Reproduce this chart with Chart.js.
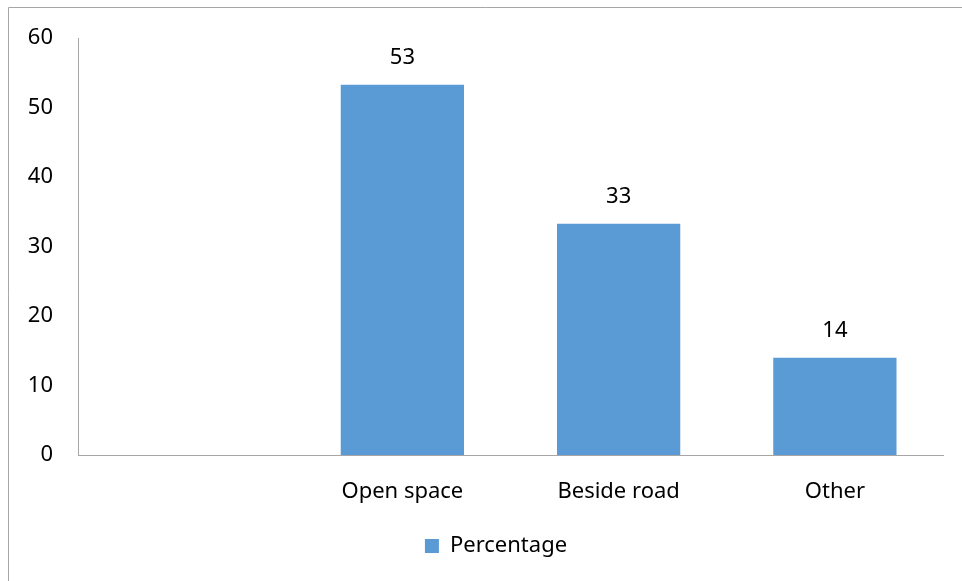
<!DOCTYPE html>
<html>
<head>
<meta charset="utf-8">
<script src="https://cdn.jsdelivr.net/npm/chart.js@4/dist/chart.umd.min.js"></script>
<style>
html,body{margin:0;padding:0;background:#fff;}
#wrap{width:962px;height:581px;position:relative;}
</style>
</head>
<body>
<div id="wrap"><canvas id="c" width="962" height="581"></canvas></div>
<script>
const categories = ["", "Open space", "Beside road", "Other"];
const percentage = [null, 53.3, 33.3, 14];
const yTicks = [0, 10, 20, 30, 40, 50, 60];
const seriesName = "Percentage";

const FONT = "'Noto Sans', 'Open Sans', sans-serif";

const framePlugin = {
  id: 'frame',
  beforeDraw(chart) {
    const ctx = chart.ctx;
    ctx.save();
    ctx.fillStyle = '#fff';
    ctx.fillRect(0, 0, chart.width, chart.height);
    ctx.strokeStyle = '#a6a6a6';
    ctx.lineWidth = 1;
    ctx.beginPath();
    ctx.moveTo(8.5, chart.height);
    ctx.lineTo(8.5, 7.5);
    ctx.lineTo(chart.width, 7.5);
    ctx.stroke();
    ctx.restore();
  },
  afterLayout(chart) {
    if (chart.legend) { chart.legend.left = 49; }
  }
};

const labelPlugin = {
  id: 'vals',
  afterDatasetsDraw(chart) {
    const ctx = chart.ctx;
    const meta = chart.getDatasetMeta(0);
    ctx.save();
    ctx.fillStyle = '#000';
    ctx.font = "22px " + FONT;
    ctx.textAlign = 'center';
    ctx.textBaseline = 'middle';
    meta.data.forEach((bar, i) => {
      const v = percentage[i];
      if (v === null || v === undefined) return;
      ctx.fillText(String(Math.round(v)), bar.x, bar.y - 27);
    });
    ctx.restore();
  }
};

new Chart(document.getElementById('c'), {
  type: 'bar',
  data: {
    labels: categories,
    datasets: [{
      label: seriesName,
      data: percentage,
      backgroundColor: '#5b9bd5',
      borderWidth: 0,
      categoryPercentage: 1,
      barPercentage: 0.57
    }]
  },
  options: {
    responsive: false,
    animation: false,
    devicePixelRatio: 1,
    layout: { padding: { left: 9, top: 34, right: 19, bottom: 14 } },
    scales: {
      x: {
        grid: { display: false, drawTicks: false },
        border: { display: true, color: '#a6a6a6', width: 1 },
        ticks: { color: '#000', font: { family: FONT, size: 22 }, padding: 24, maxRotation: 0 },
        afterFit(s) { s.height = 70; }
      },
      y: {
        min: 0, max: 60,
        grid: { display: false, drawTicks: false },
        border: { display: true, color: '#a6a6a6', width: 1 },
        afterBuildTicks(s) { s.ticks = yTicks.map(v => ({ value: v })); },
        ticks: { color: '#000', font: { family: FONT, size: 22 }, padding: 25 },
        afterFit(s) { s.width = 69; }
      }
    },
    plugins: {
      legend: {
        position: 'bottom',
        labels: { color: '#000', font: { family: FONT, size: 22 }, boxWidth: 14, boxHeight: 14, padding: 10 }
      },
      tooltip: { enabled: false }
    }
  },
  plugins: [framePlugin, labelPlugin]
});
</script>
</body>
</html>
